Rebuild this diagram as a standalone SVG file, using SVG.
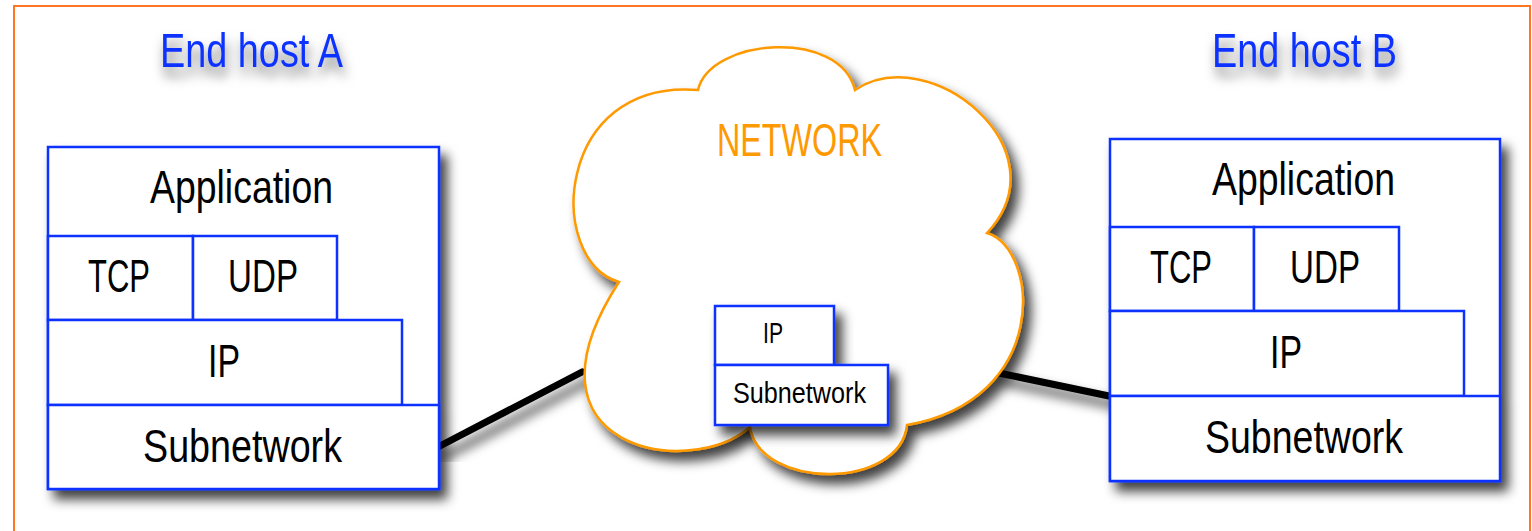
<svg xmlns="http://www.w3.org/2000/svg" width="1532" height="531" viewBox="0 0 1532 531">
<defs>
<filter id="sh" x="-20%" y="-20%" width="140%" height="140%">
<feDropShadow dx="7" dy="9" stdDeviation="6" flood-color="#000" flood-opacity="0.75"/>
</filter>
<filter id="tsh" x="-20%" y="-40%" width="140%" height="200%">
<feDropShadow dx="2" dy="9" stdDeviation="6" flood-color="#000" flood-opacity="0.55"/>
</filter>
<style>
.box{fill:#fff;stroke:#0a33ff;stroke-width:2.5}
.t{font-family:"Liberation Sans",Arial,sans-serif;fill:#000;text-anchor:middle}
.big{font-size:47px}
.small{font-size:30px}
.title{font-family:"Liberation Sans",Arial,sans-serif;font-size:48px;fill:#0a33ff;text-anchor:middle}
.net{font-family:"Liberation Sans",Arial,sans-serif;font-size:47px;fill:#ff9900;text-anchor:middle}
.link{stroke:#000;stroke-width:7;stroke-linecap:round;fill:none}
</style>
</defs>
<rect x="0" y="0" width="1532" height="531" fill="#fff"/>
<rect x="14" y="6" width="1516" height="540" fill="none" stroke="#ff7722" stroke-width="2"/>

<g id="connectors" filter="url(#sh)">
<line class="link" x1="438" y1="447" x2="582" y2="372"/>
<line class="link" x1="999" y1="373" x2="1109" y2="396"/>
</g>

<g id="network">
<path filter="url(#sh)" d="M698 90 C710 38 840 28 855 90 C930 40 1065 150 987 233 C1040 250 1050 400 907 425 C900 490 760 490 750 427 C690 480 510 450 619 282 C545 260 555 78 698 90 Z" fill="#fff" stroke="#ff9900" stroke-width="2.5" stroke-linejoin="miter"/>
<text class="net" x="799.5" y="156" textLength="165" lengthAdjust="spacingAndGlyphs">NETWORK</text>
<g filter="url(#sh)">
<rect class="box" x="715" y="306" width="119" height="59"/>
<rect class="box" x="715" y="365" width="173" height="60"/>
</g>
<text class="t small" x="773" y="343" textLength="20" lengthAdjust="spacingAndGlyphs">IP</text>
<text class="t small" x="799.5" y="403" textLength="133" lengthAdjust="spacingAndGlyphs">Subnetwork</text>
</g>

<g id="hostA">
<text class="title" x="251.5" y="67" filter="url(#tsh)" textLength="183" lengthAdjust="spacingAndGlyphs">End host A</text>
<g filter="url(#sh)">
<rect class="box" x="48" y="147" width="391" height="342"/>
<rect class="box" x="48" y="236" width="145" height="84"/>
<rect class="box" x="193" y="236" width="144" height="84"/>
<rect class="box" x="48" y="320" width="354" height="85"/>
<rect class="box" x="48" y="405" width="391" height="84"/>
</g>
<text class="t big" x="241.5" y="203" textLength="183" lengthAdjust="spacingAndGlyphs">Application</text>
<text class="t big" x="119" y="292" textLength="62" lengthAdjust="spacingAndGlyphs">TCP</text>
<text class="t big" x="263" y="292" textLength="70" lengthAdjust="spacingAndGlyphs">UDP</text>
<text class="t big" x="224" y="377" textLength="32" lengthAdjust="spacingAndGlyphs">IP</text>
<text class="t big" x="242.5" y="462" textLength="199" lengthAdjust="spacingAndGlyphs">Subnetwork</text>
</g>

<g id="hostB">
<text class="title" x="1304.5" y="67" filter="url(#tsh)" textLength="185" lengthAdjust="spacingAndGlyphs">End host B</text>
<g filter="url(#sh)">
<rect class="box" x="1110" y="139" width="390" height="342"/>
<rect class="box" x="1110" y="227" width="144" height="84"/>
<rect class="box" x="1254" y="227" width="145" height="84"/>
<rect class="box" x="1110" y="311" width="354" height="85"/>
<rect class="box" x="1110" y="396" width="390" height="85"/>
</g>
<text class="t big" x="1303.5" y="195" textLength="183" lengthAdjust="spacingAndGlyphs">Application</text>
<text class="t big" x="1181" y="283" textLength="62" lengthAdjust="spacingAndGlyphs">TCP</text>
<text class="t big" x="1325" y="283" textLength="70" lengthAdjust="spacingAndGlyphs">UDP</text>
<text class="t big" x="1286" y="368" textLength="32" lengthAdjust="spacingAndGlyphs">IP</text>
<text class="t big" x="1304" y="453" textLength="198" lengthAdjust="spacingAndGlyphs">Subnetwork</text>
</g>
</svg>
